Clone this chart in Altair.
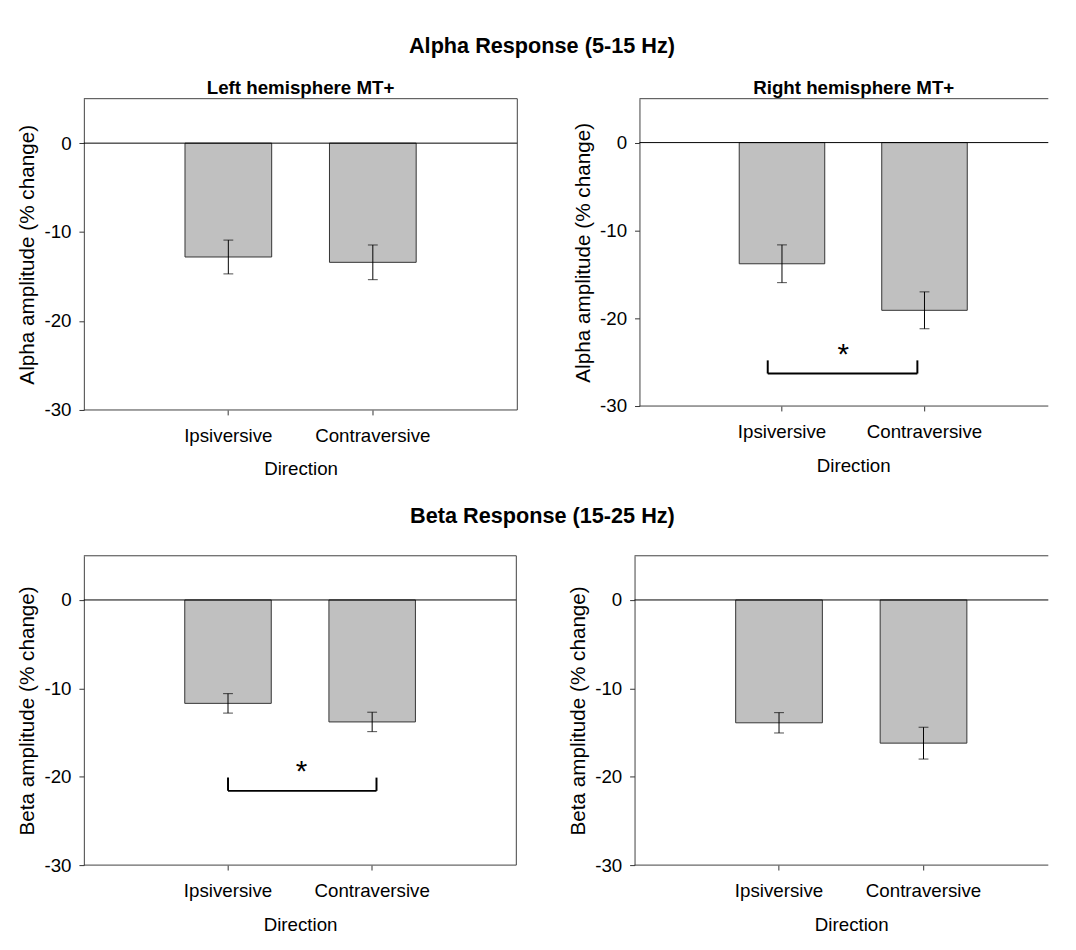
import altair as alt
import pandas as pd

# ---------------- data ----------------
categories = ["Ipsiversive", "Contraversive"]

alpha_left_mean = [-12.8, -13.4]
alpha_left_sem = [1.9, 1.95]
alpha_right_mean = [-13.8, -19.1]
alpha_right_sem = [2.15, 2.1]

beta_left_mean = [-11.7, -13.8]
beta_left_sem = [1.1, 1.1]
beta_right_mean = [-13.9, -16.2]
beta_right_sem = [1.15, 1.8]

y_ticks = [-30, -20, -10, 0]
y_domain = [-30, 5]

# significance brackets, x in category-index units (categories sit at 1 and 2 on a 0..3 axis)
alpha_right_bracket = {"x1": 0.9, "x2": 1.95, "y_top": -24.8, "y_line": -26.3,
                       "star_x": 1.43, "star_y": -23.5}
beta_left_bracket = {"x1": 1.0, "x2": 2.03, "y_top": -20.1, "y_line": -21.6,
                     "star_x": 1.51, "star_y": -18.8}

FONT = "Liberation Sans"
FRAME = "#404040"


def panel(mean, sem, ytitle, width, height, xrange_w, subtitle=None, bracket=None,
          right_border=True, subtitle_dx=0):
    df = pd.DataFrame({
        "Direction": categories,
        "mean": mean,
        "lo": [m - s for m, s in zip(mean, sem)],
        "hi": [m + s for m, s in zip(mean, sem)],
    })
    xscale = alt.Scale(domain=categories, paddingInner=0.4, paddingOuter=0.7,
                       range=[0, xrange_w])
    yscale = alt.Scale(domain=y_domain, nice=False, zero=False)
    x_axis = alt.Axis(title="Direction", labelAngle=0, domain=False, tickSize=5,
                      labelPadding=12, titlePadding=15)
    y_axis = alt.Axis(values=y_ticks, grid=False, domain=True, tickSize=5,
                      labelPadding=8, titlePadding=6, titleFontSize=21,
                      minExtent=41, maxExtent=41,
                      labelExpr="'' + datum.value")
    x = alt.X("Direction:N", scale=xscale, sort=categories, axis=x_axis)

    base = alt.Chart(df)
    bars = base.mark_bar(color="#c0c0c0", stroke="#333333", strokeWidth=1).encode(
        x=x,
        y=alt.Y("mean:Q", scale=yscale, axis=y_axis, title=ytitle),
        y2=alt.datum(0),
    )
    errs = base.mark_rule(color="black", strokeWidth=1).encode(
        x=x, y=alt.Y("lo:Q", title=ytitle), y2="hi:Q")
    cap_lo = base.mark_tick(color="black", size=10, thickness=1).encode(
        x=x, y=alt.Y("lo:Q", title=ytitle))
    cap_hi = base.mark_tick(color="black", size=10, thickness=1).encode(
        x=x, y=alt.Y("hi:Q", title=ytitle))
    zero = alt.Chart(pd.DataFrame({"zero": [0]})).mark_rule(
        color="black", strokeWidth=1).encode(y=alt.Y("zero:Q", title=ytitle))

    # plot frame (top / bottom / optional right edge)
    frame_top = alt.Chart(pd.DataFrame({"v": [y_domain[1]]})).mark_rule(
        color=FRAME, strokeWidth=1).encode(y=alt.Y("v:Q", title=ytitle))
    frame_bot = alt.Chart(pd.DataFrame({"v": [y_domain[0]]})).mark_rule(
        color=FRAME, strokeWidth=1).encode(y=alt.Y("v:Q", title=ytitle))
    layers = [bars, errs, cap_lo, cap_hi, zero, frame_top, frame_bot]
    if right_border:
        frame_right = alt.Chart(pd.DataFrame({"v": [0]})).mark_rule(
            color=FRAME, strokeWidth=1).encode(x=alt.value(width))
        layers.append(frame_right)

    main = alt.layer(*layers)

    if bracket is not None:
        qx = alt.Scale(domain=[0, 3], range=[0, xrange_w], nice=False, zero=False)
        bdf = pd.DataFrame([bracket])
        arms = pd.DataFrame({"x": [bracket["x1"], bracket["x2"]],
                             "y_top": [bracket["y_top"]] * 2,
                             "y_line": [bracket["y_line"]] * 2})
        hline = alt.Chart(bdf).mark_rule(color="black", strokeWidth=2).encode(
            x=alt.X("x1:Q", scale=qx, axis=None), x2="x2:Q",
            y=alt.Y("y_line:Q", title=ytitle))
        varms = alt.Chart(arms).mark_rule(color="black", strokeWidth=2).encode(
            x=alt.X("x:Q", scale=qx, axis=None),
            y=alt.Y("y_top:Q", title=ytitle), y2="y_line:Q")
        star = alt.Chart(bdf).mark_text(text="*", font=FONT, fontSize=30,
                                        baseline="middle", dy=6, color="black").encode(
            x=alt.X("star_x:Q", scale=qx, axis=None),
            y=alt.Y("star_y:Q", title=ytitle))
        layer = alt.layer(main, alt.layer(hline, varms, star)).resolve_scale(x="independent")
    else:
        layer = main

    props = {"width": width, "height": height}
    if subtitle:
        props["title"] = alt.Title(subtitle, font=FONT, fontSize=19, fontWeight="bold",
                                   anchor="middle", offset=0, dx=subtitle_dx,
                                   color="black")
    return layer.properties(**props)


tl = panel(alpha_left_mean, alpha_left_sem, "Alpha amplitude (% change)",
           440, 316, 440, subtitle="Left hemisphere MT+")
tr = panel(alpha_right_mean, alpha_right_sem, "Alpha amplitude (% change)",
           415, 312, 434, subtitle="Right hemisphere MT+", bracket=alpha_right_bracket,
           right_border=False, subtitle_dx=10)
bl = panel(beta_left_mean, beta_left_sem, "Beta amplitude (% change)",
           439, 314, 439, bracket=beta_left_bracket)
br = panel(beta_right_mean, beta_right_sem, "Beta amplitude (% change)",
           420, 314, 440, right_border=False)

row1 = alt.hconcat(tl, tr, spacing=55).properties(
    title=alt.Title("Alpha Response (5-15 Hz)", font=FONT, fontSize=22,
                    fontWeight="bold", anchor="middle", offset=22, color="black"))
row2 = alt.hconcat(bl, br, spacing=51).properties(
    title=alt.Title("Beta Response (15-25 Hz)", font=FONT, fontSize=22,
                    fontWeight="bold", anchor="middle", offset=28, color="black"))

chart = alt.vconcat(row1, row2, spacing=26).properties(
    padding={"left": 9, "top": 20, "right": 0, "bottom": 0}
).configure_view(
    strokeWidth=0
).configure_axis(
    labelFont=FONT, titleFont=FONT, labelFontSize=19, titleFontSize=19,
    titleFontWeight="normal", labelColor="black", titleColor="black",
    tickColor="#333333", domainColor=FRAME
).configure_title(font=FONT)

chart.save("out.html", embed_options={"renderer": "svg", "actions": False})
